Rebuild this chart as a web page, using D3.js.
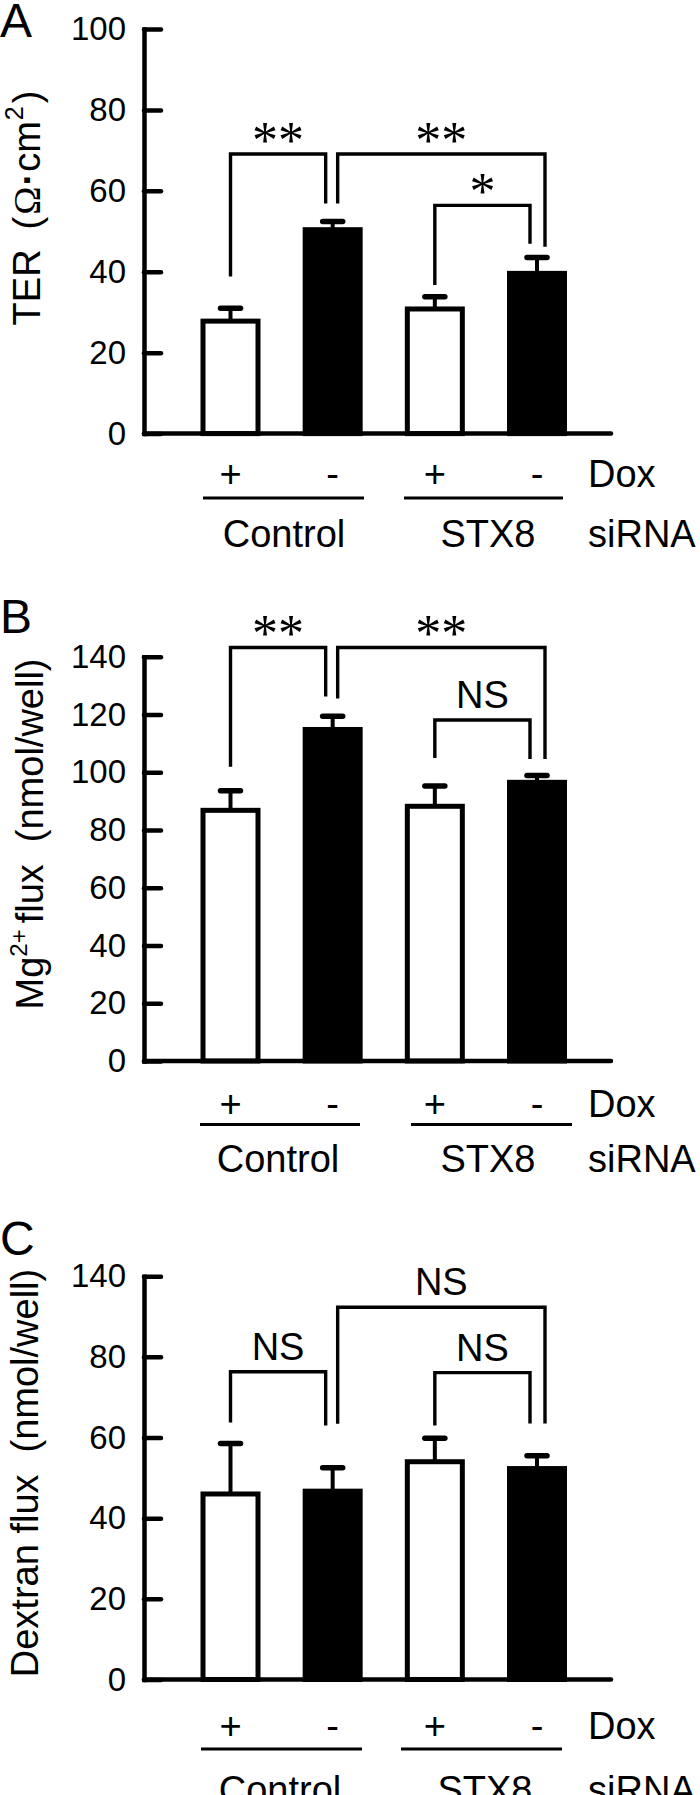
<!DOCTYPE html>
<html>
<head>
<meta charset="utf-8">
<script src="https://cdn.jsdelivr.net/npm/d3@7"></script>
<style>
  body { margin: 0; background: #fff; }
  svg { display: block; }
  text { font-family: "Liberation Sans", Arial, sans-serif; fill: #000; }
</style>
</head>
<body>
<svg id="chart" width="700" height="1795"></svg>
<script>
// ---------------- data ----------------
const groups = ["Control", "STX8"];
const doxLabels = ["+", "-", "+", "-"];
const barFills = ["#fff", "#000", "#fff", "#000"];

const terValues = [27.8, 50.4, 30.8, 39.6];
const terErrors = [3.2, 2.0, 3.0, 3.9];
const terTicks = [0, 20, 40, 60, 80, 100];
const terTickLabels = ["0", "20", "40", "60", "80", "100"];

const mgValues = [86.8, 114.8, 88.2, 96.5];
const mgErrors = [6.8, 4.6, 7.0, 2.4];
const mgTicks = [0, 20, 40, 60, 80, 100, 120, 140];
const mgTickLabels = ["0", "20", "40", "60", "80", "100", "120", "140"];

const dexValues = [46.0, 46.7, 54.0, 52.3];
const dexErrors = [12.5, 5.8, 5.8, 3.2];
const dexTicks = [0, 20, 40, 60, 80, 100];
const dexTickLabels = ["0", "20", "40", "60", "80", "140"];

// brackets: [fromBar, toBar, topValue, leftLegEnd, rightLegEnd, label]
const terBrackets = [
  [0, 1, 69.1, 38.8, 56.9, "**"],
  [1, 3, 69.1, 56.9, 46.2, "**"],
  [2, 3, 56.4, 36.7, 46.9, "*"]
];
const mgBrackets = [
  [0, 1, 143.2, 101.9, 126.2, "**"],
  [1, 3, 143.2, 125.5, 104.6, "**"],
  [2, 3, 118.1, 104.9, 104.6, "NS"]
];
const dexBrackets = [
  [0, 1, 76.3, 63.7, 63.0, "NS"],
  [1, 3, 92.3, 63.4, 63.5, "NS"],
  [2, 3, 76.1, 63.0, 63.5, "NS"]
];

// ---------------- layout ----------------
const svg = d3.select("#chart");
const axisX = 144;
const axisEnd = 611;
const x = d3.scalePoint().domain([0, 1, 2, 3]).range([230.5, 537]);
const barW = 55;

const panels = [
  { letter: "A", letterY: 37, values: terValues, errors: terErrors, ticks: terTicks, tickLabels: terTickLabels,
    max: 100, yTop: 29, yZero: 433.6, brackets: terBrackets, title: "ter",
    titleX: 40, titleY: 208, doxY: 487, lineY: 498, groupY: 547,
    lines: [[203, 364], [404, 563]], groupX: [284, 488] },
  { letter: "B", letterY: 633, values: mgValues, errors: mgErrors, ticks: mgTicks, tickLabels: mgTickLabels,
    max: 140, yTop: 656.7, yZero: 1061, brackets: mgBrackets, title: "mg",
    titleX: 43, titleY: 834, doxY: 1116.5, lineY: 1124.5, groupY: 1172,
    lines: [[200, 360], [411, 572]], groupX: [278, 488] },
  { letter: "C", letterY: 1255, values: dexValues, errors: dexErrors, ticks: dexTicks, tickLabels: dexTickLabels,
    max: 100, yTop: 1276.2, yZero: 1679.5, brackets: dexBrackets, title: "dex",
    titleX: 38, titleY: 1473, doxY: 1739, lineY: 1749, groupY: 1803,
    lines: [[201, 362], [401, 562]], groupX: [280, 485] }
];

panels.forEach(p => {
  const g = svg.append("g");
  const y = d3.scaleLinear().domain([0, p.max]).range([p.yZero, p.yTop]);

  // panel letter
  g.append("text").attr("x", 0).attr("y", p.letterY)
    .style("font-size", "48px").text(p.letter);

  // y axis title
  const t = g.append("text")
    .attr("transform", `translate(${p.titleX},${p.titleY}) rotate(-90)`)
    .attr("text-anchor", "middle")
    .style("font-size", "38px");
  if (p.title === "ter") {
    t.append("tspan").text("TER");
    t.append("tspan").attr("dx", 20).text("(");
    t.append("tspan").attr("dx", 2).style("font-family", "'Liberation Serif', serif").text("Ω");
    t.append("tspan").attr("dx", 1).style("font-weight", "bold").text("·");
    t.append("tspan").attr("dx", 1).text("cm");
    t.append("tspan").attr("dy", -17).attr("dx", 1).style("font-size", "25px").text("2");
    t.append("tspan").attr("dy", 17).attr("dx", 3).text(")");
  } else if (p.title === "mg") {
    t.append("tspan").text("Mg");
    t.append("tspan").attr("dy", -16).style("font-size", "24px").text("2+");
    t.append("tspan").attr("dy", 16).attr("dx", 6).text("flux");
    t.append("tspan").attr("dx", 22).text("(nmol/well)");
  } else {
    t.append("tspan").text("Dextran flux");
    t.append("tspan").attr("dx", 22).text("(nmol/well)");
  }

  // y axis
  const yAxis = d3.axisLeft(y)
    .tickValues(p.ticks)
    .tickFormat((d, i) => p.tickLabels[i])
    .tickSizeInner(-17)
    .tickSizeOuter(0)
    .tickPadding(18);
  const ax = g.append("g").attr("transform", `translate(${axisX},0)`).call(yAxis);
  ax.select(".domain").attr("stroke", "#000").attr("stroke-width", 4.5).attr("stroke-linecap", "square");
  ax.selectAll(".tick line").attr("stroke", "#000").attr("stroke-width", 4.5).attr("stroke-linecap", "round");
  ax.selectAll(".tick text")
    .style("font-family", "'Liberation Sans', Arial, sans-serif")
    .style("font-size", "33px")
    .attr("fill", "#000");

  // error bars (behind bars)
  const eg = g.append("g");
  p.values.forEach((v, i) => {
    const cx = x(i);
    eg.append("line").attr("x1", cx).attr("x2", cx)
      .attr("y1", y(v)).attr("y2", y(v + p.errors[i]))
      .attr("stroke", "#000").attr("stroke-width", 4);
    eg.append("line").attr("x1", cx - 10).attr("x2", cx + 10)
      .attr("y1", y(v + p.errors[i])).attr("y2", y(v + p.errors[i]))
      .attr("stroke", "#000").attr("stroke-width", 5.5).attr("stroke-linecap", "round");
  });

  // bars
  g.append("g").selectAll("rect").data(p.values).join("rect")
    .attr("x", (d, i) => x(i) - barW / 2)
    .attr("width", barW)
    .attr("y", d => y(d))
    .attr("height", d => y(0) - y(d))
    .attr("fill", (d, i) => barFills[i])
    .attr("stroke", "#000").attr("stroke-width", 5);

  // x axis line
  g.append("line").attr("x1", axisX).attr("x2", axisEnd)
    .attr("y1", y(0)).attr("y2", y(0))
    .attr("stroke", "#000").attr("stroke-width", 4.5).attr("stroke-linecap", "round");

  // significance brackets
  p.brackets.forEach(b => {
    const [from, to, top, lEnd, rEnd, label] = b;
    const cross = (to - from) > 1;
    const xl = x(from) + (cross ? 5 : 0);
    const xr = x(to) + (cross ? 8 : -7);
    g.append("path")
      .attr("d", `M${xl},${y(lEnd)}V${y(top)}H${xr}V${y(rEnd)}`)
      .attr("fill", "none").attr("stroke", "#000").attr("stroke-width", 3.4);
    const isStar = label.indexOf("*") >= 0;
    g.append("text")
      .attr("x", (xl + xr) / 2)
      .attr("y", y(top) + (isStar ? 4 : -12))
      .attr("text-anchor", "middle")
      .style("font-family", isStar ? "'Liberation Serif', serif" : "'Liberation Sans', Arial, sans-serif")
      .style("font-size", isStar ? "52px" : "38px")
      .text(label);
  });

  // Dox row
  doxLabels.forEach((d, i) => {
    g.append("text").attr("x", x(i)).attr("y", p.doxY)
      .attr("text-anchor", "middle").style("font-size", "38px").text(d);
  });
  g.append("text").attr("x", 588).attr("y", p.doxY).style("font-size", "38px").text("Dox");

  // group lines and labels
  p.lines.forEach((l, i) => {
    g.append("line").attr("x1", l[0]).attr("x2", l[1])
      .attr("y1", p.lineY).attr("y2", p.lineY)
      .attr("stroke", "#000").attr("stroke-width", 2.8);
    g.append("text").attr("x", p.groupX[i]).attr("y", p.groupY)
      .attr("text-anchor", "middle").style("font-size", "38px").text(groups[i]);
  });
  g.append("text").attr("x", 588).attr("y", p.groupY).style("font-size", "38px").text("siRNA");
});
</script>
</body>
</html>
